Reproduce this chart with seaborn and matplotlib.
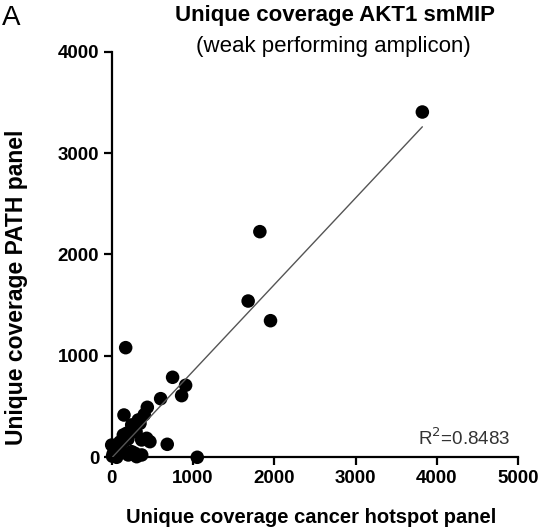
import matplotlib
matplotlib.use("Agg")
import matplotlib.pyplot as plt
import seaborn as sns
import pandas as pd

hotspot = [3820, 1822, 1678, 1953, 172, 749, 909, 860, 602, 438, 151, 683, 1052,
           400, 327, 265, 348, 246, 184, 143, 430, 470, 369, 143, 81, 41, 20, 246,
           286, 307, 204, 61, 0, 123, 41, 369, 100, 200, 300, 10]
path = [3405, 2225, 1541, 1347, 1081, 789, 710, 608, 578, 493, 417, 128, 0,
        420, 368, 302, 335, 319, 237, 220, 187, 154, 171, 154, 89, 105, 39, 55,
        39, 6, 23, 0, 121, 55, 23, 23, 150, 180, 250, 10]
r2_label = "R$^2$=0.8483"

df = pd.DataFrame({"hotspot": hotspot, "path": path})

sns.set_theme(style="ticks")
plt.rcParams["font.family"] = ["Liberation Sans", "DejaVu Sans"]
plt.rcParams["text.color"] = "black"
plt.rcParams["axes.labelcolor"] = "black"

fig = plt.figure(figsize=(5.38, 5.30), dpi=100)
ax = fig.add_axes([0.2076, 0.1372, 0.7558, 0.7653])

sns.regplot(data=df, x="hotspot", y="path", ax=ax, ci=None, truncate=True,
            scatter_kws=dict(s=95, color="black", alpha=1, edgecolor="none",
                             clip_on=False, zorder=3),
            line_kws=dict(color="#555555", lw=1.0, zorder=4))

ax.set_xlim(0, 5000)
ax.set_ylim(0, 4000)
ax.set_xticks([0, 1000, 2000, 3000, 4000, 5000])
ax.set_yticks([0, 1000, 2000, 3000, 4000])
for lab in ax.get_xticklabels() + ax.get_yticklabels():
    lab.set_fontweight("bold")
ax.tick_params(axis="both", direction="out", length=6, width=1.6, labelsize=13.5,
               color="black", labelcolor="black", pad=3)
for s in ["top", "right"]:
    ax.spines[s].set_visible(False)
for s in ["left", "bottom"]:
    ax.spines[s].set_linewidth(1.6)
    ax.spines[s].set_color("black")

ax.set_xlabel("Unique coverage cancer hotspot panel", fontsize=14.5, fontweight="bold")
ax.set_ylabel("Unique coverage PATH panel", fontsize=16.5, fontweight="bold")
ax.xaxis.set_label_coords(0.49, -0.125)
ax.yaxis.set_label_coords(-0.205, 0.42)

fig.text(0.622, 0.971, "Unique coverage AKT1 smMIP", ha="center", va="center",
         fontsize=16, fontweight="bold")
fig.text(0.62, 0.913, "(weak performing amplicon)", ha="center", va="center", fontsize=16)
fig.text(0.004, 0.966, "A", ha="left", va="center", fontsize=20)
ax.text(4900, 85, r2_label, ha="right", va="bottom", fontsize=13.5, color="#333333")

fig.savefig("out.png", dpi=100)
